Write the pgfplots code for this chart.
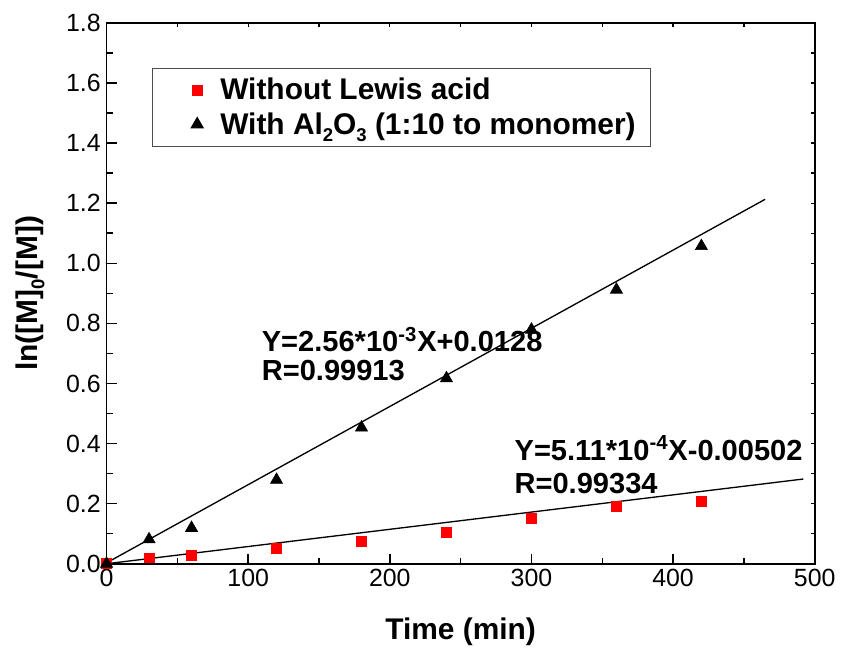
\documentclass[border=0pt]{standalone}
\usepackage{fontspec}
\setmainfont{Liberation Sans}
\usepackage{pgfplots}
\pgfplotsset{compat=1.18}
\newcommand{\lsub}[1]{\raisebox{-0.45ex}{\fontsize{0.62em}{0.7em}\selectfont #1}}
\pgfplotstableread{
x y
0 0
30 0.018
60 0.028
120 0.050
180 0.074
240 0.106
300 0.150
360 0.191
420 0.207
}\nolewis
\pgfplotstableread{
x y
0 0
30 0.081
60 0.119
120 0.279
180 0.453
240 0.617
300 0.779
360 0.912
420 1.057
}\alumina
\begin{document}
\begin{tikzpicture}
\begin{axis}[
  scale only axis, width=426.6pt, height=325.8pt,
  xmin=0, xmax=500, ymin=0, ymax=1.8,
  xtick={0,100,...,500}, ytick={0,0.2,...,1.8},
  minor xtick={50,150,...,450}, minor ytick={0.1,0.3,...,1.7},
  tick pos=left, tick align=inside,
  major tick length=6pt, minor tick length=3.6pt,
  every tick/.style={line width=0.9pt, black},
  axis line style={line width=1pt},
  /pgf/number format/assume math mode=true,
  yticklabel style={/pgf/number format/fixed, /pgf/number format/fixed zerofill, /pgf/number format/precision=1},
  ticklabel style={font=\fontsize{15}{18}\selectfont},
  xlabel={\bfseries Time (min)},
  ylabel={\bfseries ln([M]\lsub{0}/[M])},
  xlabel style={at={(axis description cs:0.5,-0.125)}, anchor=center, font=\fontsize{18}{21}\selectfont},
  ylabel style={at={(axis description cs:-0.108,0.5)}, anchor=center, rotate=0, font=\fontsize{18}{21}\selectfont},
  legend style={at={(axis description cs:0.0647,0.917)}, anchor=north west, draw=black!70, line width=0.6pt,
    font=\fontsize{18}{21}\selectfont\bfseries, row sep=2pt, inner xsep=7pt, inner ysep=4pt},
  legend cell align=left,
  legend image code/.code={\path (0pt,0pt) (31pt,0pt); \draw[#1] plot coordinates {(19.4pt,0pt)};},
  clip=false,
]
\addplot[only marks, mark=square*, mark size=3pt, color=red, mark options={fill=red, draw=red}] table {\nolewis};
\addlegendentry{Without Lewis acid}
\addplot[only marks, mark=triangle*, mark size=4.2pt, color=black] table {\alumina};
\addlegendentry{With Al\lsub{2}O\lsub{3} (1:10 to monomer)}
\addplot[black, line width=0.8pt, forget plot] coordinates {(0,0.003) (465,1.213)};
\addplot[black, line width=0.8pt, forget plot] coordinates {(0,0.0) (492,0.282)};
\node[anchor=west, font=\fontsize{17.5}{20}\selectfont\bfseries] at (axis cs:105.5,0.746) {Y=2.56*10\textsuperscript{-3}X+0.0128};
\node[anchor=west, font=\fontsize{17.5}{20}\selectfont\bfseries] at (axis cs:105.5,0.643) {R=0.99913};
\node[anchor=west, font=\fontsize{17.5}{20}\selectfont\bfseries] at (axis cs:284,0.385) {Y=5.11*10\textsuperscript{-4}X-0.00502};
\node[anchor=west, font=\fontsize{17.5}{20}\selectfont\bfseries] at (axis cs:284,0.268) {R=0.99334};
\path (axis description cs:-0.1505,-0.162) rectangle (axis description cs:1.0323,1.0424);
\end{axis}
\begin{axis}[
  scale only axis, width=426.6pt, height=325.8pt,
  xmin=0, xmax=500, ymin=0, ymax=1.8,
  xtick={0,50,...,500}, ytick={0,0.1,...,1.8},
  xticklabels={}, yticklabels={},
  tick pos=right, tick align=inside,
  major tick length=2.5pt,
  every tick/.style={line width=0.8pt, black},
  axis line style={line width=1pt},
]
\end{axis}
\end{tikzpicture}
\end{document}
